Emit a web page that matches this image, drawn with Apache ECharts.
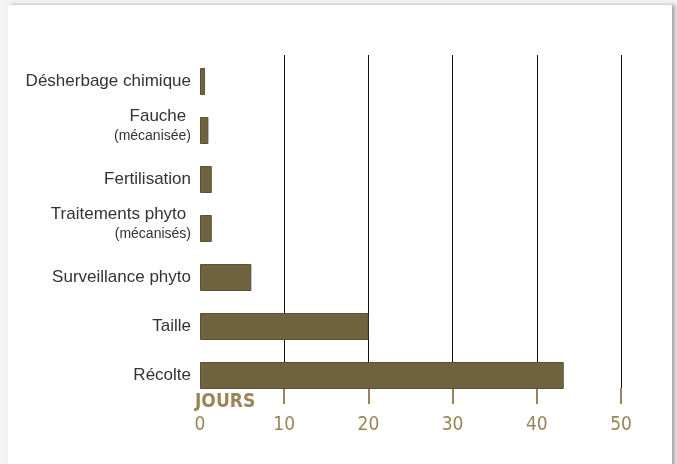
<!DOCTYPE html>
<html>
<head>
<meta charset="utf-8">
<script src="https://cdn.jsdelivr.net/npm/echarts@6/dist/echarts.min.js"></script>
<style>
  html, body { margin:0; padding:0; width:677px; height:464px; background:#f4f4f4; overflow:hidden; }
  #card { position:absolute; left:8px; top:5px; width:664px; height:470px; background:#ffffff;
          box-shadow: 3px 0 4px rgba(60,60,80,0.45); }
  #chart { position:absolute; left:0; top:0; width:677px; height:464px; }
</style>
</head>
<body>
<div id="card"></div>
<div id="chart"></div>
<script>
// ---- data ----
const categories = ['Désherbage chimique', 'Fauche ', 'Fertilisation', 'Traitements phyto ', 'Surveillance phyto', 'Taille', 'Récolte'];
const notes = ['', '(mécanisée)', '', '(mécanisés)', '', '', ''];
const days = [0.6, 1.0, 1.4, 1.4, 6.1, 20, 43.2];
const tickValues = [10, 20, 30, 40, 50];
const labelValues = [0, 10, 20, 30, 40, 50];
const axisName = 'JOURS';

const FONT = '"Liberation Sans", Arial, sans-serif';
const NUMFONT = '"DejaVu Sans Condensed", "Liberation Sans", sans-serif';
const GOLD = '#9a8558';
const BAR = '#706440';

const chart = echarts.init(document.getElementById('chart'), null, { renderer: 'canvas' });
chart.setOption({
  animation: false,
  backgroundColor: 'transparent',
  grid: [
    { left: 200, right: 56, top: 57, bottom: 64, outerBoundsMode: 'none', containLabel: false },
    { left: 200, right: 56, top: 55, bottom: 76, outerBoundsMode: 'none', containLabel: false }
  ],
  xAxis: [
    { gridIndex: 0, type: 'value', min: 0, max: 50, show: false },
    { gridIndex: 1, type: 'value', min: 0, max: 50, interval: 10, offset: 3,
      axisLine: { show: false },
      axisTick: { show: true, length: 16, customValues: tickValues, lineStyle: { color: GOLD, width: 2 } },
      axisLabel: { customValues: labelValues, margin: 25, color: GOLD, fontSize: 19, fontFamily: NUMFONT },
      splitLine: { show: true, lineStyle: { color: '#111', width: 1 } }
    }
  ],
  yAxis: [
    { gridIndex: 0, type: 'category', data: categories, inverse: true,
      axisLine: { show: false }, axisTick: { show: false },
      axisLabel: {
        margin: 9, color: '#333333', fontFamily: FONT,
        formatter: function (v, i) {
          return notes[i] ? '{a|' + v + '}\n{b|' + notes[i] + '}\n{c| }' : '{a|' + v + '}';
        },
        rich: {
          a: { fontSize: 17, fontFamily: FONT, color: '#333333', lineHeight: 20, align: 'right' },
          b: { fontSize: 14, fontFamily: FONT, color: '#333333', lineHeight: 20, align: 'right' },
          c: { fontSize: 4, lineHeight: 8, align: 'right' }
        }
      },
      splitLine: { show: false }
    },
    { gridIndex: 1, type: 'value', show: false, splitLine: { show: false } }
  ],
  series: [
    { type: 'bar', xAxisIndex: 0, yAxisIndex: 0, data: days, barWidth: 27, z: 3,
      itemStyle: { color: BAR, borderColor: '#5c5233', borderWidth: 1 } }
  ],
  graphic: [
    { type: 'text', left: 195, top: 393, z: 10,
      style: { text: axisName, fill: GOLD, font: 'bold 19px ' + NUMFONT } }
  ]
});
</script>
</body>
</html>
